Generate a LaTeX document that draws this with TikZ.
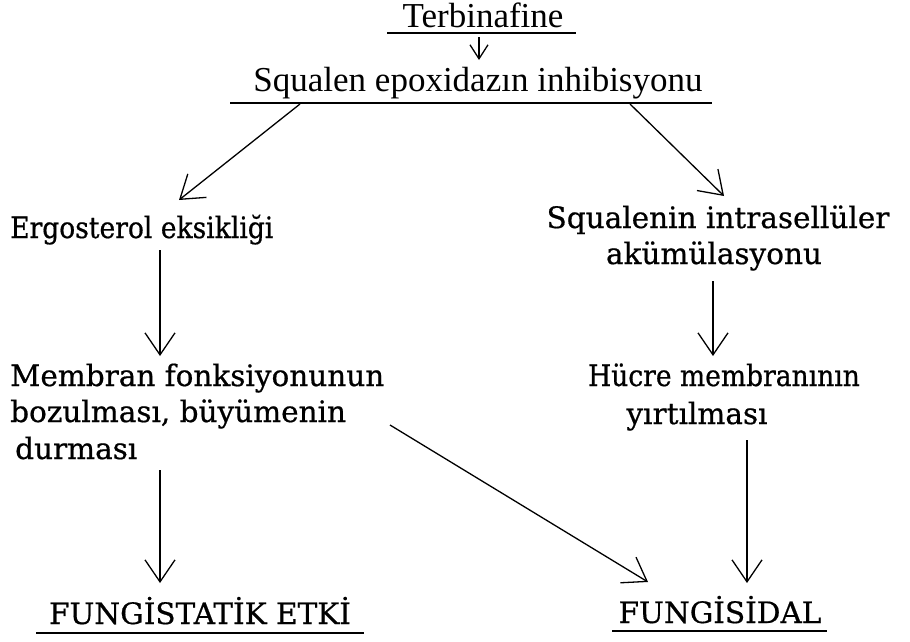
\documentclass[tikz,border=0pt]{standalone}
\usepackage{fontspec}
\setmainfont{DejaVu Serif}[FakeBold=0.6]
\newfontfamily\narrowfont{DejaVu Serif}[FakeBold=0.6,FakeStretch=0.9]
\newfontfamily\topfont{Liberation Serif}
\usetikzlibrary{arrows.meta,calc}
\begin{document}
\begin{tikzpicture}[x=1pt,y=-1pt,
  txt/.style={inner sep=0pt, font=\fontsize{29.5}{34}\selectfont},
  ntxt/.style={inner sep=0pt, font=\narrowfont\fontsize{29.5}{34}\selectfont},
  toptxt/.style={inner sep=0pt, font=\topfont\fontsize{35}{40}\selectfont},
  arr/.style={line width=1.3pt, -{Straight Barb[length=22pt,width=30pt,line width=1.3pt]}},
  sarr/.style={line width=1.3pt, -{Straight Barb[length=14pt,width=18pt,line width=1.3pt]}},
  uline/.style={line width=1.6pt}]
\useasboundingbox (0,0) rectangle (910,641);
\fill[white] (0,0) rectangle (910,641);

% texts
\node[toptxt, anchor=base] (terb) at (483,27) {Terbinafine};
\node[toptxt, anchor=base] (sq) at (478,91) {Squalen epoxidazın inhibisyonu};
\node[ntxt, anchor=base west] (erg) at (10,238) {Ergosterol eksikliği};
\node[txt, anchor=base] (acc1) at (718,228) {Squalenin intrasellüler};
\node[txt, anchor=base] (acc2) at (714,264) {akümülasyonu};
\node[txt, anchor=base west] (mem1) at (10,386) {Membran fonksiyonunun};
\node[txt, anchor=base west] (mem2) at (10,422) {bozulması, büyümenin};
\node[txt, anchor=base west] (mem3) at (15,459) {durması};
\node[ntxt, anchor=base] (huc1) at (724,386) {Hücre membranının};
\node[txt, anchor=base] (huc2) at (697,424) {yırtılması};
\node[txt, anchor=base] (fst) at (200,624) {FUNGİSTATİK ETKİ};
\node[txt, anchor=base] (fsd) at (720,623) {FUNGİSİDAL};

% underlines
\coordinate (u1a) at (387,33); \coordinate (u1b) at (576,33);
\coordinate (u2a) at (230,103); \coordinate (u2b) at (712,103);
\coordinate (u3a) at (36,633); \coordinate (u3b) at (364,633);
\coordinate (u4a) at (612,631); \coordinate (u4b) at (827,631);
\draw[uline] (u1a) -- (u1b);
\draw[uline] (u2a) -- (u2b);
\draw[uline] (u3a) -- (u3b);
\draw[uline] (u4a) -- (u4b);

% connector ends
\coordinate (a0s) at (479,37);  \coordinate (a0e) at (479,60);
\coordinate (a1s) at (300,104); \coordinate (a1e) at (179,200);
\coordinate (a2s) at (630,104); \coordinate (a2e) at (724,196);
\coordinate (a3s) at (160,250); \coordinate (a3e) at (160,356);
\coordinate (a4s) at (713,281); \coordinate (a4e) at (713,356);
\coordinate (a5s) at (160,470); \coordinate (a5e) at (160,583);
\coordinate (a6s) at (390,425); \coordinate (a6e) at (648,582);
\coordinate (a7s) at (747,440); \coordinate (a7e) at (747,583);

\draw[sarr] (a0s) -- (a0e);
\draw[arr] (a1s) -- (a1e);
\draw[arr] (a2s) -- (a2e);
\draw[arr] (a3s) -- (a3e);
\draw[arr] (a4s) -- (a4e);
\draw[arr] (a5s) -- (a5e);
\draw[arr] (a6s) -- (a6e);
\draw[arr] (a7s) -- (a7e);
\end{tikzpicture}
\end{document}
